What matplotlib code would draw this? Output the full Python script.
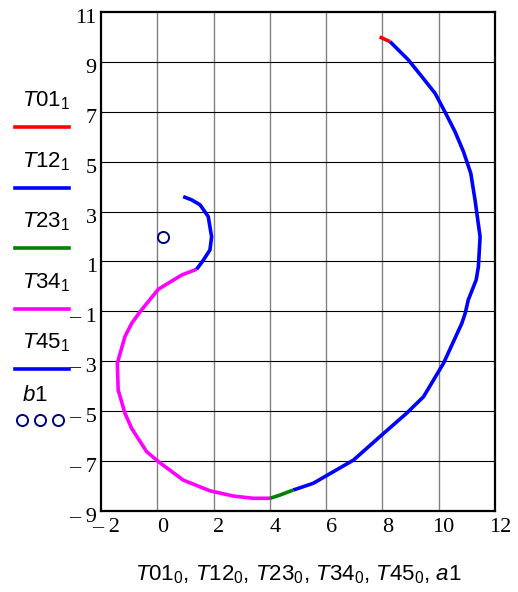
import matplotlib
matplotlib.use('Agg')
import matplotlib.pyplot as plt
import matplotlib.transforms as mtransforms
from matplotlib.lines import Line2D

plt.rcParams['mathtext.fontset'] = 'custom'
plt.rcParams['mathtext.it'] = 'Liberation Sans:italic'
plt.rcParams['mathtext.rm'] = 'Liberation Sans'

# trajectory segments (x = index 0, y = index 1)
T01_x = [7.90, 8.27]
T01_y = [10.00, 9.81]

T12_x = [8.27, 8.92, 9.40, 9.87, 10.22, 10.58, 10.88, 11.14, 11.29, 11.47, 11.41,
         11.33, 11.05, 10.94, 10.82, 10.17, 9.46, 8.86, 7.91, 6.97, 5.54, 4.83]
T12_y = [9.81, 9.08, 8.41, 7.74, 7.00, 6.20, 5.40, 4.53, 3.47, 1.99, 0.79,
         0.26, -0.54, -1.08, -1.48, -3.08, -4.42, -5.08, -6.02, -6.96, -7.89, -8.16]

T23_x = [4.83, 4.36, 4.01]
T23_y = [-8.16, -8.36, -8.49]

T34_x = [4.01, 3.41, 2.70, 1.87, 0.92, 0.04, -0.38, -0.91, -1.15, -1.39, -1.42,
         -1.15, -0.91, -0.61, 0.04, 0.87, 1.40]
T34_y = [-8.49, -8.49, -8.40, -8.19, -7.76, -7.02, -6.62, -5.69, -5.08, -4.15, -3.08,
         -2.01, -1.48, -1.01, -0.11, 0.46, 0.69]

T45_x = [1.40, 1.64, 1.87, 1.93, 1.87, 1.81, 1.52, 1.22, 0.92]
T45_y = [0.69, 1.06, 1.46, 1.99, 2.39, 2.80, 3.27, 3.47, 3.60]

a1 = [0.19]
b1 = [2.0]

x_ticks = [-2, 0, 2, 4, 6, 8, 10, 12]
y_ticks = [-9, -7, -5, -3, -1, 1, 3, 5, 7, 9, 11]

series = [
    (T01_x, T01_y, '#ff0000', r'$\mathit{T01}_{1}$'),
    (T12_x, T12_y, '#0000ff', r'$\mathit{T12}_{1}$'),
    (T23_x, T23_y, '#008000', r'$\mathit{T23}_{1}$'),
    (T34_x, T34_y, '#ff00ff', r'$\mathit{T34}_{1}$'),
    (T45_x, T45_y, '#0000ff', r'$\mathit{T45}_{1}$'),
]

LW = 2.6


def fmt(v):
    # Mathcad style negative labels: dash, space, digits
    return '\u2013 %d' % abs(v) if v < 0 else '%d' % v


fig = plt.figure(figsize=(5.18, 5.92), dpi=100)
ax = fig.add_axes([0.195, 0.1368, 0.7606, 0.843])

for xs, ys, c, lab in series:
    ax.plot(xs, ys, color=c, linewidth=LW, solid_capstyle='butt')
ax.plot(a1, b1, linestyle='none', marker='o', markersize=8, markerfacecolor='none',
        markeredgecolor='#000080', markeredgewidth=1.4)

ax.set_xlim(-2, 12)
ax.set_ylim(-9, 11)
ax.set_xticks(x_ticks)
ax.set_yticks(y_ticks)
ax.set_xticklabels([fmt(v) for v in x_ticks], fontfamily='Liberation Serif', fontsize=16)
ax.set_yticklabels([fmt(v) for v in y_ticks], fontfamily='Liberation Serif', fontsize=16)
ax.tick_params(axis='x', length=0, pad=5)
ax.tick_params(axis='y', length=0, pad=3)

# labels sit a little right of / below their grid positions
dx = mtransforms.ScaledTranslation(5 / 100, 0, fig.dpi_scale_trans)
dy = mtransforms.ScaledTranslation(0, -4 / 100, fig.dpi_scale_trans)
for t in ax.get_xticklabels():
    t.set_transform(t.get_transform() + dx)
for t in ax.get_yticklabels():
    t.set_transform(t.get_transform() + dy)

# grid: gray verticals, black horizontals
for v in x_ticks[1:-1]:
    ax.axvline(v, color='#808080', linewidth=1.0, zorder=0)
for v in y_ticks[1:-1]:
    ax.axhline(v, color='black', linewidth=0.8, zorder=0)
for s in ax.spines.values():
    s.set_linewidth(1.6)

ax.set_xlabel(r'$\mathit{T01}_{0}{,}\ \mathit{T12}_{0}{,}\ \mathit{T23}_{0}{,}\ \mathit{T34}_{0}{,}\ '
              r'\mathit{T45}_{0}{,}\ \mathit{a1}$', fontsize=16, labelpad=19)

# hand-built legend left of the axes
W, H = 518.0, 592.0
for i, (xs, ys, c, lab) in enumerate(series):
    ty = 101 + 60.5 * i
    ly = 127 + 60.5 * i
    fig.text(22 / W, 1 - ty / H, lab, fontsize=16, ha='left', va='center')
    fig.add_artist(Line2D([15 / W, 69 / W], [1 - ly / H, 1 - ly / H], color=c, linewidth=LW,
                          transform=fig.transFigure))
fig.text(22 / W, 1 - 395 / H, r'$\mathit{b1}$', fontsize=16, ha='left', va='center')
fig.add_artist(Line2D([22 / W, 40 / W, 58 / W], [1 - 420 / H] * 3, linestyle='none', marker='o',
                      markersize=8, markerfacecolor='none', markeredgecolor='#000080',
                      markeredgewidth=1.4, transform=fig.transFigure))

fig.savefig('out.png', dpi=100)
